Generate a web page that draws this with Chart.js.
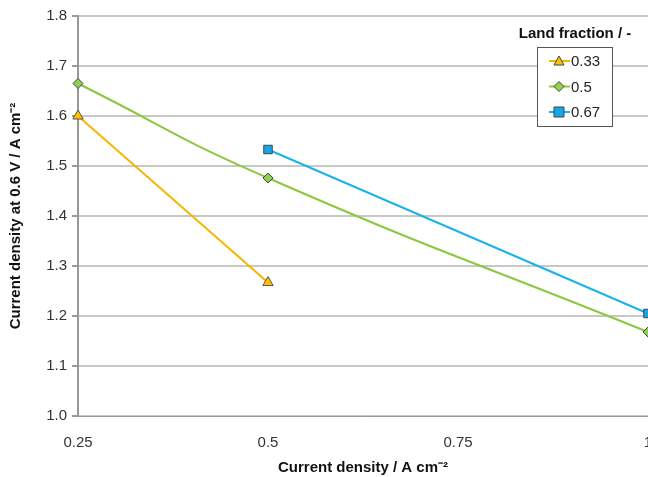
<html>
  <head>
    <title>Current density vs land fraction</title>
    <script src="https://cdn.jsdelivr.net/npm/chart.js"></script>
    <style>
      body { margin: 0; overflow: hidden; background: #fff; }
      #wrap { width: 680px; height: 477px; }
    </style>
  </head>
  <body>
    <div id="wrap">
      <canvas id="myChart" width="680" height="477"></canvas>
    </div>

  <script>
    // data
    const seriesNames = ["0.33", "0.5", "0.67"];
    const xs033 = [0.25, 0.5];
    const ys033 = [1.60, 1.267];
    const xs05 = [0.25, 0.5, 1.0];
    const ys05 = [1.665, 1.476, 1.168];
    const xs067 = [0.5, 1.0];
    const ys067 = [1.533, 1.205];
    const xTicks = [0.25, 0.5, 0.75, 1];
    const yTicks = [1.0, 1.1, 1.2, 1.3, 1.4, 1.5, 1.6, 1.7, 1.8];

    const pts = (xs, ys) => xs.map((x, i) => ({ x: x, y: ys[i] }));

    const font = "'Liberation Sans', Arial, sans-serif";

    // legend drawn inside the plot, like the original
    const boxLegend = {
      id: 'boxLegend',
      afterDraw(chart) {
        const ctx = chart.ctx;
        ctx.save();
        ctx.font = "bold 15px " + font;
        ctx.fillStyle = "#111";
        ctx.textAlign = "center";
        ctx.textBaseline = "middle";
        ctx.fillText("Land fraction / -", 575, 34);

        ctx.fillStyle = "#fff";
        ctx.fillRect(537, 47, 75, 79);
        ctx.strokeStyle = "#555";
        ctx.lineWidth = 1;
        ctx.strokeRect(537.5, 47.5, 75, 79);

        chart.data.datasets.forEach((ds, i) => {
          const y = 61 + i * 25.5;
          ctx.strokeStyle = ds.borderColor;
          ctx.lineWidth = 2;
          ctx.beginPath();
          ctx.moveTo(549, y);
          ctx.lineTo(570, y);
          ctx.stroke();
          ctx.fillStyle = ds.pointBackgroundColor;
          ctx.strokeStyle = "#444";
          ctx.lineWidth = 1;
          ctx.beginPath();
          const r = 5;
          if (ds.pointStyle === 'triangle') {
            ctx.moveTo(559, y - r);
            ctx.lineTo(559 + r, y + r * 0.8);
            ctx.lineTo(559 - r, y + r * 0.8);
            ctx.closePath();
          } else if (ds.pointStyle === 'rectRot') {
            ctx.moveTo(559, y - r);
            ctx.lineTo(559 + r, y);
            ctx.lineTo(559, y + r);
            ctx.lineTo(559 - r, y);
            ctx.closePath();
          } else {
            ctx.rect(554, y - 5, 10, 10);
          }
          ctx.fill();
          ctx.stroke();
          ctx.fillStyle = "#222";
          ctx.font = "15px " + font;
          ctx.textAlign = "left";
          ctx.fillText(ds.label, 571, y + 1);
        });
        ctx.restore();
      }
    };

    const data = {
      datasets: [{
        label: seriesNames[0],
        data: pts(xs033, ys033),
        borderColor: '#f7b500',
        pointBackgroundColor: '#ffc000',
        pointBorderColor: '#555',
        pointBorderWidth: 1,
        pointStyle: 'triangle',
        pointRadius: 6,
        borderWidth: 2,
        showLine: true
      }, {
        label: seriesNames[1],
        data: pts(xs05, ys05),
        borderColor: '#8dc63f',
        pointBackgroundColor: '#92d050',
        pointBorderColor: '#444',
        pointBorderWidth: 1,
        pointStyle: 'rectRot',
        pointRadius: 5,
        borderWidth: 2,
        tension: 0.5,
        showLine: true
      }, {
        label: seriesNames[2],
        data: pts(xs067, ys067),
        borderColor: '#1ab2ec',
        pointBackgroundColor: '#10a8e8',
        pointBorderColor: '#444',
        pointBorderWidth: 1,
        pointStyle: 'rect',
        pointRadius: 6,
        borderWidth: 2,
        showLine: true
      }]
    };

    const config = {
      type: 'scatter',
      data: data,
      plugins: [boxLegend],
      options: {
        responsive: false,
        animation: false,
        clip: false,
        layout: { padding: { top: 16, right: 32, left: 0, bottom: 0 } },
        plugins: { legend: { display: false }, tooltip: { enabled: false } },
        scales: {
          x: {
            type: 'linear',
            min: 0.25,
            max: 1,
            afterBuildTicks: s => { s.ticks = xTicks.map(v => ({ value: v })); },
            afterFit: s => { s.height = 61; },
            grid: { display: false, drawTicks: true, tickLength: 6, color: '#999' },
            border: { color: '#999' },
            ticks: {
              color: '#333',
              font: { family: font, size: 15 },
              padding: 12,
              maxRotation: 0,
              callback: v => String(v)
            },
            title: {
              display: true,
              text: 'Current density / A cm⁻²',
              color: '#111',
              font: { family: font, size: 15, weight: 'bold' },
              padding: { top: 7, bottom: 0 }
            }
          },
          y: {
            min: 1.0,
            max: 1.8,
            afterBuildTicks: s => { s.ticks = yTicks.map(v => ({ value: v })); },
            afterFit: s => { s.width = 78; },
            grid: { color: '#c8c8c8', lineWidth: 2, tickLength: 6, tickColor: '#999' },
            border: { color: '#999', width: 2 },
            ticks: {
              color: '#333',
              font: { family: font, size: 15 },
              padding: 5,
              callback: v => v.toFixed(1)
            },
            title: {
              display: true,
              text: 'Current density at 0.6 V / A cm⁻²',
              color: '#111',
              font: { family: font, size: 15, weight: 'bold' },
              padding: { top: 7, bottom: 4 }
            }
          }
        }
      }
    };

    window.myChart = new Chart(document.getElementById('myChart'), config);
  </script>
  </body>
</html>
